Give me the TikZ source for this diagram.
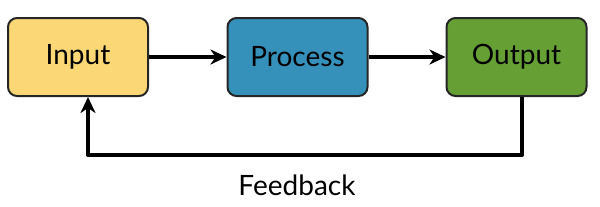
\documentclass[tikz,border=0pt]{standalone}
\usepackage{fontspec}
\setmainfont{Lato}
\usepackage{tikz}
\usetikzlibrary{arrows.meta,positioning}
\definecolor{inputYellow}{HTML}{FBD776}
\definecolor{processBlue}{HTML}{3590BA}
\definecolor{outputGreen}{HTML}{66A035}
\tikzset{
  loopBox/.style={draw=black!85, line width=1pt, rounded corners=4.5pt, align=center, font=\fontsize{14}{16}\selectfont, minimum width=70pt, minimum height=39pt, inner sep=0pt},
  loopArrow/.style={-{Stealth[length=8pt, width=7.5pt, inset=2.5pt]}, line width=2pt},
  loopLabel/.style={font=\fontsize{14}{16}\selectfont, inner sep=0pt}
}
\begin{document}
\begin{tikzpicture}[x=0.5pt, y=-0.5pt]
      \useasboundingbox (0,0) rectangle (600,206);
      \node[loopBox, fill=inputYellow] (input) at (78,57) {Input};
      \node[loopBox, fill=processBlue] (process) at (297.5,57) {Process};
      \node[loopBox, fill=outputGreen] (output) at (516.5,57) {Output};
      \coordinate (fbk) at (300,155);
      \node[loopLabel] (fbklabel) at (297,185) {Feedback};
      \draw[loopArrow] (input) -- (process);
      \draw[loopArrow] (process) -- (output);
      \draw[loopArrow, line join=round] ([xshift=2.75pt]output.south) |- (fbk) -| ([xshift=5pt]input.south);
    \end{tikzpicture}
\end{document}
